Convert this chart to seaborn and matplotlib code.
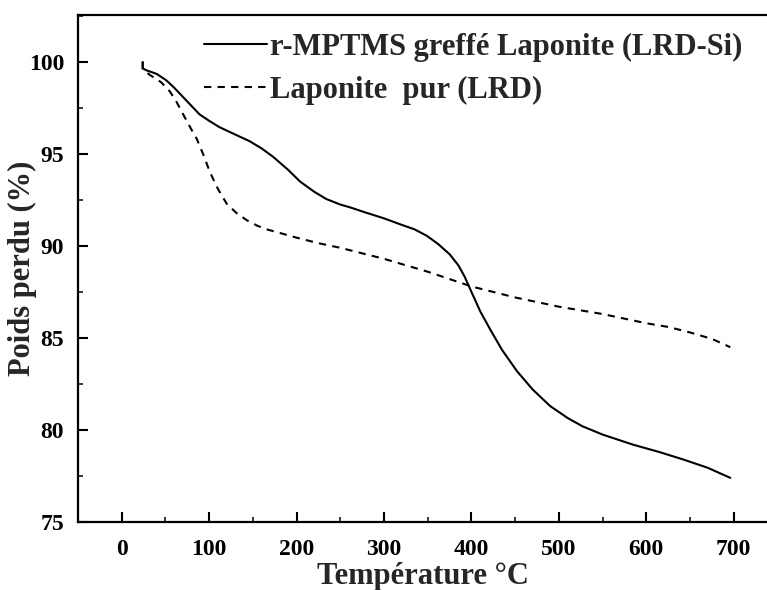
import numpy as np
import pandas as pd
import matplotlib
matplotlib.use("Agg")
import matplotlib.pyplot as plt
from matplotlib.ticker import MultipleLocator
import seaborn as sns

# --- data ---
temp_si = [24, 24, 28, 40, 51, 60, 70, 80, 89, 100, 112, 130, 146, 160, 173, 190, 204, 220, 234, 250,
           261, 280, 300, 320, 335, 349, 362, 375, 385, 392, 400, 410, 421, 435, 452, 470, 490, 510,
           527, 550, 585, 615, 642, 670, 696]
mass_si = [100.0, 99.65, 99.55, 99.35, 99.0, 98.6, 98.1, 97.6, 97.15, 96.8, 96.45, 96.05, 95.7, 95.3,
           94.85, 94.15, 93.5, 92.95, 92.55, 92.25, 92.1, 91.8, 91.5, 91.15, 90.9, 90.55, 90.1, 89.55,
           88.95, 88.35, 87.5, 86.45, 85.5, 84.35, 83.2, 82.2, 81.3, 80.65, 80.2, 79.75, 79.2, 78.8,
           78.4, 77.95, 77.4]

temp_lrd = [24, 24, 28, 32, 45, 55, 63, 72, 80, 86, 93, 101, 110, 120, 131, 143, 155, 166, 185, 200,
            225, 250, 275, 300, 325, 350, 375, 400, 425, 450, 475, 500, 525, 550, 575, 600, 625, 650,
            675, 696]
mass_lrd = [100.0, 99.6, 99.45, 99.3, 98.9, 98.4, 97.8, 97.0, 96.3, 95.8, 95.0, 94.0, 93.1, 92.3,
            91.8, 91.4, 91.1, 90.9, 90.65, 90.45, 90.15, 89.9, 89.6, 89.3, 88.95, 88.6, 88.2, 87.8,
            87.5, 87.2, 86.95, 86.7, 86.5, 86.3, 86.05, 85.8, 85.6, 85.3, 84.95, 84.5]

label_si = "r-MPTMS greffé Laponite (LRD-Si)"
label_lrd = "Laponite  pur (LRD)"
x_label = "Température °C"
y_label = "Poids perdu (%)"
x_ticks = [0, 100, 200, 300, 400, 500, 600, 700]
y_ticks = [75, 80, 85, 90, 95, 100]

df_si = pd.DataFrame({"T": temp_si, "W": mass_si})
df_lrd = pd.DataFrame({"T": temp_lrd, "W": mass_lrd})

sns.set_theme(style="ticks")
plt.rcParams["font.family"] = ["Liberation Serif", "DejaVu Serif"]
plt.rcParams["font.weight"] = "bold"

fig = plt.figure(figsize=(7.67, 5.90), dpi=100)
ax = fig.add_axes([78 / 767, 1 - 522 / 590, 1 - 78 / 767, (522 - 15) / 590])

sns.lineplot(data=df_si, x="T", y="W", ax=ax, color="black", linewidth=1.5,
             sort=False, estimator=None, label=label_si)
sns.lineplot(data=df_lrd, x="T", y="W", ax=ax, color="black", linewidth=1.5,
             sort=False, estimator=None, label=label_lrd, linestyle=(0, (3.5, 3)))

ax.set_xlim(-50, 738)
ax.set_ylim(75, 102.55)
ax.set_xticks(x_ticks)
ax.set_yticks(y_ticks)
ax.xaxis.set_minor_locator(MultipleLocator(50))
ax.yaxis.set_minor_locator(MultipleLocator(2.5))
ax.tick_params(which="major", direction="in", length=7.5, width=1.5, labelsize=17,
               colors="black")
ax.tick_params(axis="x", which="major", pad=12)
ax.tick_params(axis="y", which="major", pad=10)
ax.tick_params(which="minor", direction="in", length=3.5, width=1.3)
for lab in ax.get_xticklabels() + ax.get_yticklabels():
    lab.set_fontweight("bold")

for side in ["left", "bottom", "top"]:
    ax.spines[side].set_linewidth(1.6)
    ax.spines[side].set_color("black")
ax.spines["right"].set_visible(False)

ax.set_xlabel(x_label, fontsize=22, fontweight="bold", labelpad=2)
ax.set_ylabel(y_label, fontsize=22, fontweight="bold")
ax.yaxis.set_label_coords((37 - 78) / 689, 0.5)

leg = ax.legend(loc="upper left", bbox_to_anchor=(204 / 767, 1 - 33 / 590),
                bbox_transform=fig.transFigure, frameon=False, fontsize=22,
                handlelength=2.05, handletextpad=0.1, labelspacing=0.45,
                borderpad=0, borderaxespad=0)
for t in leg.get_texts():
    t.set_fontweight("bold")

fig.savefig("out.png", dpi=100)
